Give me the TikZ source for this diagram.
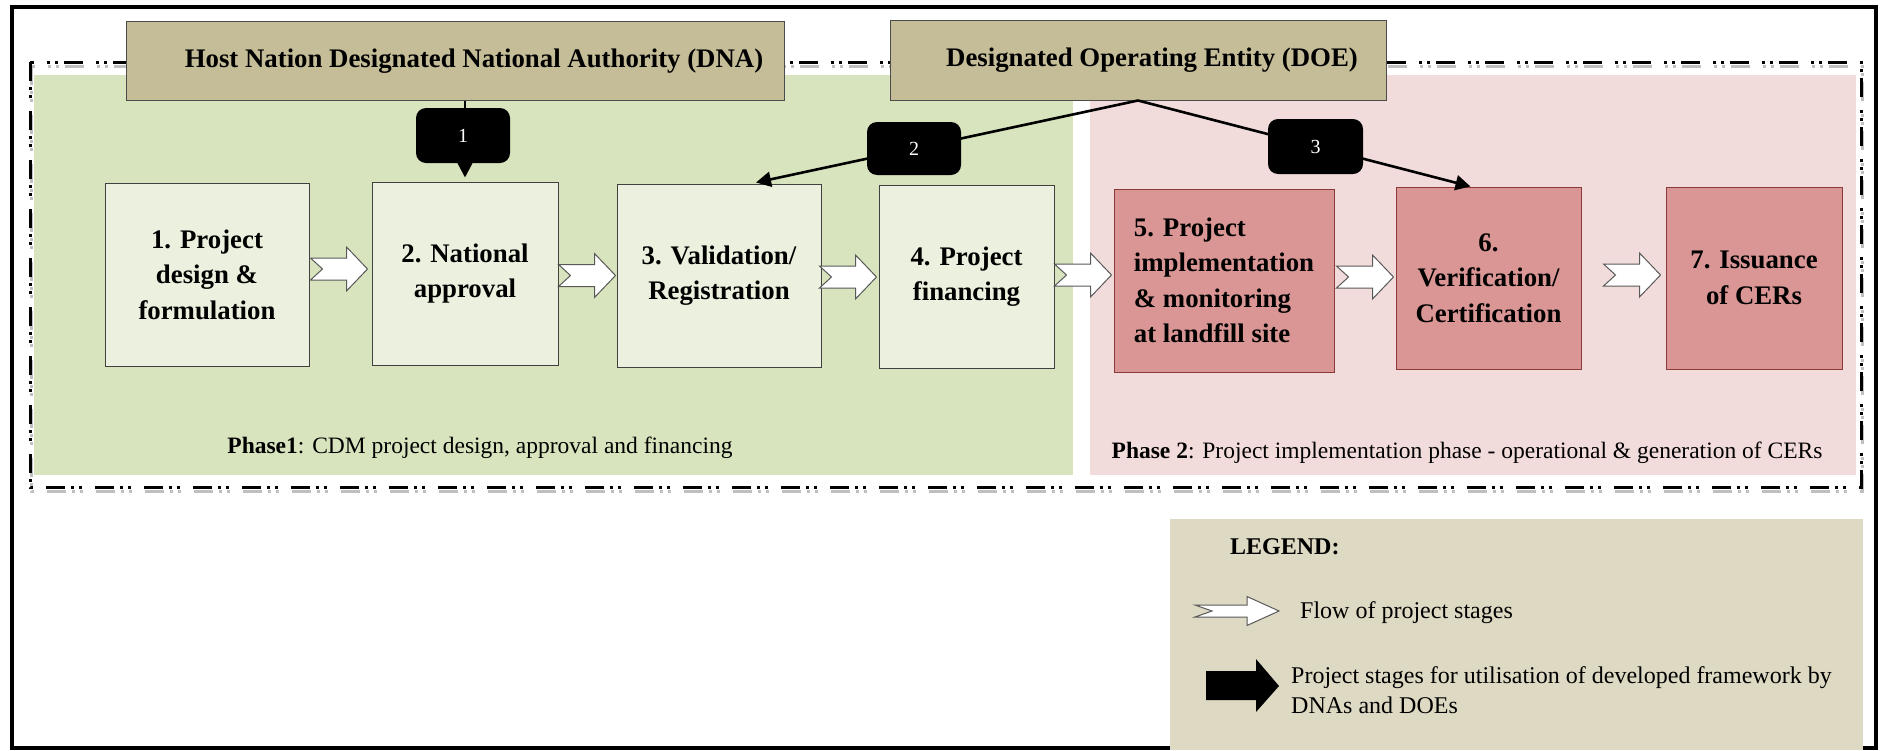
\documentclass[tikz,border=0pt]{standalone}
\usepackage{fontspec}
\setmainfont{Liberation Serif}
\usetikzlibrary{arrows.meta,calc}
\definecolor{phaseA}{HTML}{D7E4BD}
\definecolor{phaseB}{HTML}{F2DCDB}
\definecolor{boxA}{HTML}{EBF1DE}
\definecolor{boxB}{HTML}{D99694}
\definecolor{tanhead}{HTML}{C4BD97}
\definecolor{tanlegend}{HTML}{DDD9C3}
\definecolor{boxBline}{HTML}{8B3A38}
\newcommand\flowto[3]{\draw[flowarr] let \p1=($(#1.west)+(#2,#3)$) in
  (\x1,\y1) -- (\x1-21pt,\y1+22pt) -- (\x1-21pt,\y1+11pt) -- (\x1-57pt,\y1+11pt)
  -- (\x1-45pt,\y1) -- (\x1-57pt,\y1-11pt) -- (\x1-21pt,\y1-11pt) -- (\x1-21pt,\y1-22pt) -- cycle;}
\begin{document}
\begin{tikzpicture}[x=1pt,y=-1pt,
  region/.style={inner sep=0pt, outer sep=0pt, anchor=north west},
  stage/.style={draw=black!75, line width=1pt, inner sep=0pt, align=center,
    font=\fontsize{26.8}{35.5}\selectfont\bfseries},
  stageA/.style={stage, fill=boxA},
  stageB/.style={stage, fill=boxB, draw=boxBline},
  header/.style={draw=black!70, line width=1pt, fill=tanhead, inner sep=0pt},
  headtext/.style={inner sep=0pt, font=\fontsize{26.8}{32}\selectfont\bfseries},
  callout/.style={fill=black, rounded corners=10pt, text=white, inner sep=0pt,
    font=\fontsize{20}{24}\selectfont},
  conn/.style={line width=2.6pt, -{Triangle[length=15pt,width=15pt]}},
  flowarr/.style={fill=white, draw=black!65, line width=1pt, line join=miter},
  frameline/.style={line width=3pt, dash pattern=on 19pt off 6pt on 3pt off 5pt on 3pt off 13pt},
  phasetext/.style={inner sep=0pt, font=\fontsize{23.5}{28}\selectfont},
  legtext/.style={inner sep=0pt, anchor=west, align=left, font=\fontsize{24}{30}\selectfont}
]
\useasboundingbox (0,0) rectangle (1890,750);
\fill[white] (0,0) rectangle (1890,750);

% phase regions
\node[region, fill=phaseA, minimum width=1039pt, minimum height=400pt] (phase1) at (34,75) {};
\node[region, fill=phaseB, minimum width=766pt, minimum height=400pt] (phase2) at (1090,75) {};

% dash-dot frame with shadow
\draw[frameline, black!25] (31,66) rectangle (1862,491);
\draw[frameline] (30,62) rectangle (1861,487);

% outer frame
\draw[line width=4pt] (12,7) rectangle (1876,748);

% headers
\node[header, minimum width=658pt, minimum height=79pt] (dna) at (455,60.5) {};
\node[headtext] (dnatext) at (474,61) {Host Nation Designated National Authority (DNA)};
\node[header, minimum width=496pt, minimum height=80pt] (doe) at (1138,60) {};
\node[headtext] (doetext) at (1152,60) {Designated Operating Entity (DOE)};

% stage boxes
\node[stageA, minimum width=204pt, minimum height=183pt] (b1) at (207,274.5) {1. Project\\design \&\\formulation};
\node[stageA, minimum width=186pt, minimum height=183pt] (b2) at (465,273.5) {2. National\\approval};
\node[stageA, minimum width=204pt, minimum height=183pt] (b3) at (719,275.5) {3. Validation/\\Registration};
\node[stageA, minimum width=175pt, minimum height=183pt] (b4) at (966.5,276.5) {4. Project\\financing};
\node[stageB, minimum width=220pt, minimum height=183pt, align=left] (b5) at (1224,280.5) {5. Project\\implementation\\\& monitoring\\at landfill site};
\node[stageB, minimum width=185pt, minimum height=182pt] (b6) at (1488.5,278) {6.\\Verification/\\Certification};
\node[stageB, minimum width=176pt, minimum height=182pt] (b7) at (1754,278) {7. Issuance\\of CERs};

% connectors from DNA / DOE
\draw[conn] (dna.south -| b2.north) -- ([yshift=4pt]b2.north);
\draw[conn] (doe.south) -- ([xshift=37pt,yshift=1pt]b3.north);
\draw[conn] (doe.south) -- ([xshift=-18pt]b6.north);

% callouts
\node[callout, minimum width=94pt, minimum height=55pt] (c1) at (463,135.5) {1};
\node[callout, minimum width=94pt, minimum height=53pt] (c2) at (914,148.5) {2};
\node[callout, minimum width=95pt, minimum height=55pt] (c3) at (1315.5,146.5) {3};

% flow arrows
\flowto{b2}{-4}{-4.5}
\flowto{b3}{-1}{0}
\flowto{b4}{-2}{0.5}
\flowto{b5}{-2}{-5.5}
\flowto{b6}{-2}{-1}
\flowto{b7}{-5}{-3}

% phase labels
\node[phasetext] (p1label) at (480,448) {\textbf{Phase1}: CDM project design, approval and financing};
\node[phasetext] (p2label) at (1467,453) {\textbf{Phase 2}: Project implementation phase - operational \& generation of CERs};

% legend
\node[region, fill=tanlegend, minimum width=693pt, minimum height=231pt] (legend) at (1170,519) {};
\node[legtext, font=\fontsize{24}{30}\selectfont\bfseries] (legtitle) at (1230,547) {LEGEND:};
\draw[flowarr] (1279,611) -- (1247,596.5) -- (1247,605) -- (1195,605) -- (1212,611)
  -- (1195,617) -- (1247,617) -- (1247,625.5) -- cycle;
\node[legtext] (legflow) at (1300,613) {Flow of project stages};
\fill[black] (1279,686) -- (1256,659) -- (1256,671) -- (1206,671) -- (1206,700)
  -- (1256,700) -- (1256,712) -- cycle;
\node[legtext] (legdna) at (1291,690) {Project stages for utilisation of developed framework by\\DNAs and DOEs};
\end{tikzpicture}
\end{document}
